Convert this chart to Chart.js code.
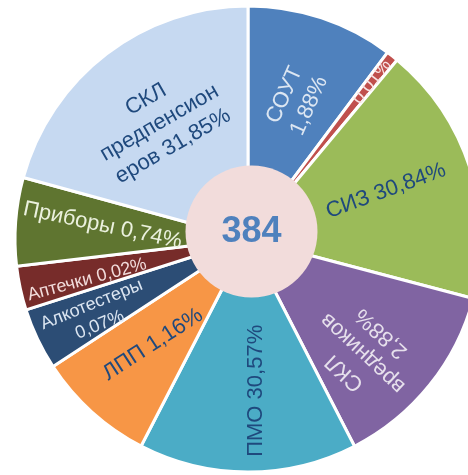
<!DOCTYPE html>
<html>
<head>
<meta charset="utf-8">
<script src="https://cdn.jsdelivr.net/npm/chart.js@4.4.1/dist/chart.umd.min.js"></script>
<style>
  html, body { margin: 0; padding: 0; background: #fff; overflow: hidden; }
  #wrap { width: 496px; height: 478px; position: relative; }
</style>
</head>
<body>
<div id="wrap"><canvas id="pie"></canvas></div>
<script>
// Slices clockwise from 12 o'clock (sizes read off the picture, not the printed %)
const categories = ['СОУТ', 'Прочее', 'СИЗ', 'СКЛ вредников', 'ПМО', 'ЛПП',
                    'Алкотестеры', 'Аптечки', 'Приборы', 'СКЛ предпенсионеров'];
const sliceSizes = [36.8, 3, 65, 48, 54.5, 29.5, 15.5, 11, 22, 74.7];
const labelLines = [
  ['СОУТ', '1,88%'],
  ['0,01%'],
  ['СИЗ 30,84%'],
  ['СКЛ', 'вредников', '2,88%'],
  ['ПМО 30,57%'],
  ['ЛПП 1,16%'],
  ['Алкотестеры', '0,07%'],
  ['Аптечки 0,02%'],
  ['Приборы 0,74%'],
  ['СКЛ', 'предпенсион', 'еров 31,85%']
];
const centerTotal = '384';

const sliceColors = ['#4f81bd', '#c0504d', '#9bbb59', '#8064a2', '#4bacc6',
                     '#f79646', '#2c4d75', '#772c2a', '#5f7530', '#c6d9f1'];

// label placement per slice: distance from centre, shift from mid-angle (deg), rotation (deg)
const labelStyle = [
  { r: 147, shift: 1,    rot: -66,  color: '#dce6f2', size: 22 },
  { r: 200, shift: 0,    rot: -52,  color: '#f8e4e4', size: 18, clip: true },
  { r: 146, shift: -1.5, rot: -20,  color: '#1f497d', size: 22 },
  { r: 162, shift: 6,    rot: -137, color: '#e6e0ec', size: 22 },
  { r: 152, shift: -3,   rot: -90,  color: '#1f497d', size: 22 },
  { r: 142, shift: 0,    rot: -33,  color: '#1f497d', size: 22 },
  { r: 170, shift: -1,   rot: -22,  color: '#dbe5f1', size: 18, lh: 22 },
  { r: 166, shift: -2,   rot: -15,  color: '#f2dcdb', size: 18 },
  { r: 146, shift: 1,    rot: 12,   color: '#ebf1de', size: 22 },
  { r: 146, shift: 0,    rot: -30,  color: '#1f497d', size: 22 }
];

const FONT = '"Liberation Sans", Arial, sans-serif';

const sliceLabels = {
  id: 'sliceLabels',
  afterDatasetsDraw(chart) {
    const ctx = chart.ctx;
    const arcs = chart.getDatasetMeta(0).data;
    const cx = arcs[0].x, cy = arcs[0].y;

    // centre disc with total
    const dx = cx + 3.5, dy = cy - 7.5;
    ctx.save();
    ctx.beginPath();
    ctx.arc(dx, dy, 66, 0, Math.PI * 2);
    ctx.fillStyle = '#f2dcdb';
    ctx.fill();
    ctx.fillStyle = '#4f81bd';
    ctx.font = 'bold 36px ' + FONT;
    ctx.textAlign = 'center';
    ctx.textBaseline = 'middle';
    ctx.fillText(centerTotal, dx, dy + 1);
    ctx.restore();

    arcs.forEach((arc, i) => {
      const st = labelStyle[i];
      const { startAngle, endAngle, outerRadius } =
        arc.getProps(['startAngle', 'endAngle', 'outerRadius'], true);
      const a = (startAngle + endAngle) / 2 + st.shift * Math.PI / 180;
      const x = cx + st.r * Math.cos(a), y = cy + st.r * Math.sin(a);
      ctx.save();
      if (st.clip) {
        ctx.beginPath();
        ctx.moveTo(cx, cy);
        ctx.arc(cx, cy, outerRadius - 1.5, startAngle, endAngle);
        ctx.closePath();
        ctx.clip();
      }
      ctx.translate(x, y);
      ctx.rotate(st.rot * Math.PI / 180);
      ctx.font = st.size + 'px ' + FONT;
      ctx.fillStyle = st.color;
      ctx.textAlign = 'center';
      ctx.textBaseline = 'middle';
      const lines = labelLines[i];
      const lh = st.lh || 27;
      lines.forEach((t, k) => ctx.fillText(t, 0, (k - (lines.length - 1) / 2) * lh));
      ctx.restore();
    });
  }
};

new Chart(document.getElementById('pie'), {
  type: 'pie',
  data: {
    labels: categories,
    datasets: [{
      data: sliceSizes,
      backgroundColor: sliceColors,
      borderColor: '#fff',
      borderWidth: 3
    }]
  },
  options: {
    responsive: true,
    maintainAspectRatio: false,
    animation: false,
    radius: 233,
    events: [],
    plugins: {
      legend: { display: false },
      tooltip: { enabled: false }
    }
  },
  plugins: [sliceLabels]
});
</script>
</body>
</html>
